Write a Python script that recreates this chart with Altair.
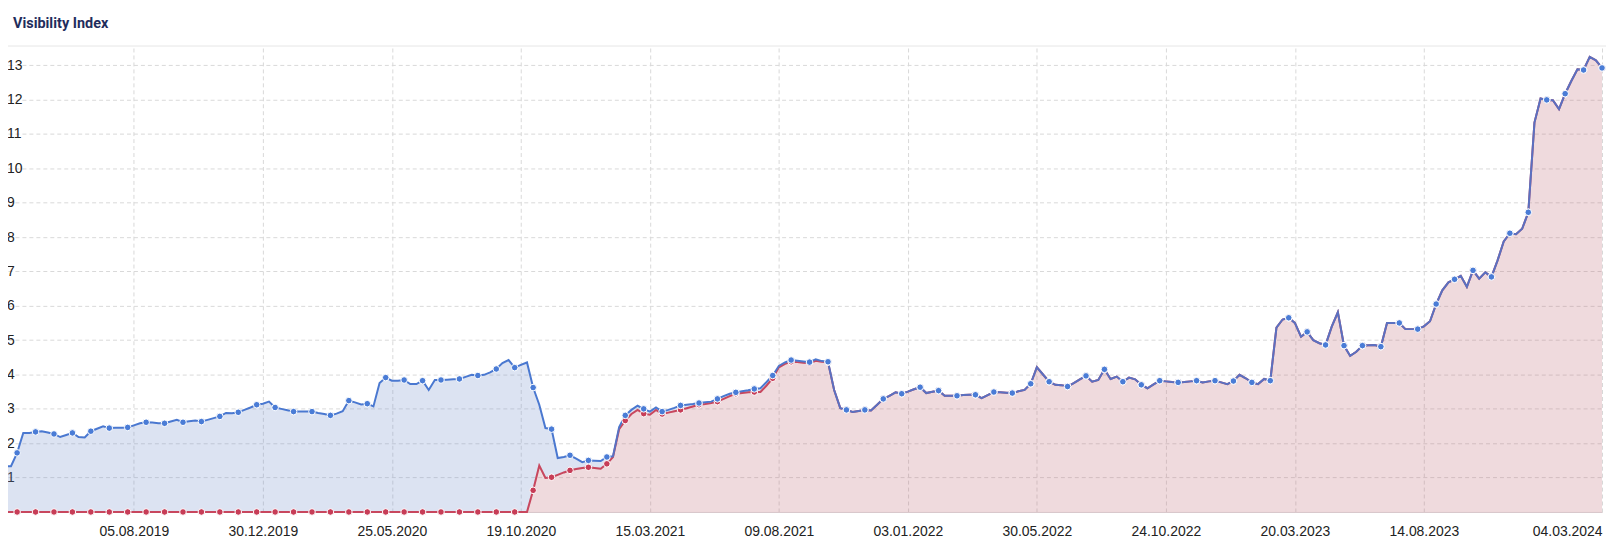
import altair as alt
import pandas as pd

# ---- data (weekly values) ----
first_week = "2019-03-04"

blue = [
    1.33, 1.33, 1.33, 1.72, 2.30, 2.30, 2.33, 2.35, 2.31, 2.27,
    2.18, 2.24, 2.30, 2.18, 2.17, 2.35, 2.42, 2.49, 2.44, 2.45,
    2.45, 2.46, 2.52, 2.58, 2.61, 2.60, 2.58, 2.58, 2.63, 2.68,
    2.61, 2.64, 2.66, 2.63, 2.68, 2.73, 2.78, 2.88, 2.87, 2.90,
    2.97, 3.04, 3.12, 3.15, 3.21, 3.04, 3.00, 2.96, 2.92, 2.92,
    2.92, 2.92, 2.88, 2.85, 2.81, 2.86, 2.93, 3.24, 3.19, 3.13,
    3.15, 3.07, 3.75, 3.91, 3.82, 3.82, 3.84, 3.72, 3.72, 3.82,
    3.55, 3.84, 3.84, 3.85, 3.86, 3.87, 3.93, 3.99, 3.97, 3.99,
    4.06, 4.16, 4.33, 4.42, 4.20, 4.28, 4.35, 3.62, 3.12, 2.44,
    2.41, 1.57, 1.60, 1.65, 1.55, 1.45, 1.50, 1.49, 1.48, 1.60,
    1.62, 2.47, 2.81, 2.97, 3.09, 3.00, 2.92, 3.04, 2.92, 2.97,
    3.03, 3.10, 3.12, 3.14, 3.17, 3.19, 3.21, 3.29, 3.37, 3.44,
    3.48, 3.51, 3.54, 3.58, 3.60, 3.78, 3.97, 4.25, 4.35, 4.42,
    4.40, 4.38, 4.36, 4.44, 4.39, 4.37, 3.55, 3.02, 2.97, 2.91,
    2.94, 2.97, 2.95, 3.12, 3.29, 3.38, 3.48, 3.44, 3.50, 3.57,
    3.63, 3.46, 3.50, 3.53, 3.38, 3.38, 3.38, 3.40, 3.41, 3.41,
    3.31, 3.40, 3.49, 3.48, 3.47, 3.46, 3.51, 3.55, 3.73, 4.21,
    4.00, 3.79, 3.70, 3.69, 3.65, 3.75, 3.86, 3.96, 3.79, 3.84,
    4.15, 3.87, 3.94, 3.79, 3.91, 3.86, 3.70, 3.60, 3.71, 3.82,
    3.80, 3.78, 3.77, 3.78, 3.80, 3.82, 3.77, 3.80, 3.82, 3.77,
    3.72, 3.81, 3.99, 3.89, 3.77, 3.72, 3.87, 3.82, 5.36, 5.60,
    5.65, 5.50, 5.10, 5.24, 5.00, 4.91, 4.86, 5.39, 5.81, 4.84,
    4.54, 4.66, 4.84, 4.85, 4.86, 4.81, 5.50, 5.50, 5.50, 5.32,
    5.32, 5.32, 5.40, 5.55, 6.05, 6.45, 6.68, 6.77, 6.87, 6.55,
    7.03, 6.79, 6.97, 6.84, 7.32, 7.87, 8.11, 8.08, 8.24, 8.72,
    11.33, 12.03, 11.99, 11.98, 11.72, 12.17, 12.54, 12.88, 12.86, 13.24,
    13.14, 12.92,
]

red = [
    0.00, 0.00, 0.00, 0.00, 0.00, 0.00, 0.00, 0.00, 0.00, 0.00,
    0.00, 0.00, 0.00, 0.00, 0.00, 0.00, 0.00, 0.00, 0.00, 0.00,
    0.00, 0.00, 0.00, 0.00, 0.00, 0.00, 0.00, 0.00, 0.00, 0.00,
    0.00, 0.00, 0.00, 0.00, 0.00, 0.00, 0.00, 0.00, 0.00, 0.00,
    0.00, 0.00, 0.00, 0.00, 0.00, 0.00, 0.00, 0.00, 0.00, 0.00,
    0.00, 0.00, 0.00, 0.00, 0.00, 0.00, 0.00, 0.00, 0.00, 0.00,
    0.00, 0.00, 0.00, 0.00, 0.00, 0.00, 0.00, 0.00, 0.00, 0.00,
    0.00, 0.00, 0.00, 0.00, 0.00, 0.00, 0.00, 0.00, 0.00, 0.00,
    0.00, 0.00, 0.00, 0.00, 0.00, 0.00, 0.00, 0.63, 1.35, 0.99,
    1.01, 1.08, 1.15, 1.21, 1.25, 1.28, 1.30, 1.28, 1.26, 1.40,
    1.60, 2.41, 2.66, 2.85, 2.97, 2.86, 2.83, 2.97, 2.85, 2.89,
    2.93, 2.97, 3.02, 3.07, 3.12, 3.14, 3.17, 3.21, 3.29, 3.37,
    3.44, 3.46, 3.48, 3.49, 3.49, 3.68, 3.89, 4.21, 4.31, 4.37,
    4.36, 4.34, 4.33, 4.40, 4.37, 4.36, 3.55, 3.02, 2.97, 2.91,
    2.94, 2.97, 2.95, 3.12, 3.29, 3.38, 3.48, 3.44, 3.50, 3.57,
    3.63, 3.46, 3.50, 3.53, 3.38, 3.38, 3.38, 3.40, 3.41, 3.41,
    3.31, 3.40, 3.49, 3.48, 3.47, 3.46, 3.51, 3.55, 3.73, 4.21,
    4.00, 3.79, 3.70, 3.69, 3.65, 3.75, 3.86, 3.96, 3.79, 3.84,
    4.15, 3.87, 3.94, 3.79, 3.91, 3.86, 3.70, 3.60, 3.71, 3.82,
    3.80, 3.78, 3.77, 3.78, 3.80, 3.82, 3.77, 3.80, 3.82, 3.77,
    3.72, 3.81, 3.99, 3.89, 3.77, 3.72, 3.87, 3.82, 5.36, 5.60,
    5.65, 5.50, 5.10, 5.24, 5.00, 4.91, 4.86, 5.39, 5.81, 4.84,
    4.54, 4.66, 4.84, 4.85, 4.86, 4.81, 5.50, 5.50, 5.50, 5.32,
    5.32, 5.32, 5.40, 5.55, 6.05, 6.45, 6.68, 6.77, 6.87, 6.55,
    7.03, 6.79, 6.97, 6.84, 7.32, 7.87, 8.11, 8.08, 8.24, 8.72,
    11.33, 12.03, 11.99, 11.98, 11.72, 12.17, 12.54, 12.88, 12.86, 13.24,
    13.14, 12.92,
]

x_tick_dates = [
    (2019, 8, 5), (2019, 12, 30), (2020, 5, 25), (2020, 10, 19),
    (2021, 3, 15), (2021, 8, 9), (2022, 1, 3), (2022, 5, 30),
    (2022, 10, 24), (2023, 3, 20), (2023, 8, 14), (2024, 3, 4),
]
y_ticks = [1, 2, 3, 4, 5, 6, 7, 8, 9, 10, 11, 12, 13]

# ---- table ----
dates = pd.date_range(first_week, periods=len(blue), freq="7D")
df = pd.DataFrame({
    "date": dates.strftime("%Y-%m-%dT00:00:00Z"),
    "blue": blue,
    "red": red,
})
dots = df.iloc[::3].reset_index(drop=True)

# ---- styling ----
BLUE_LINE = "#4a78d0"
BLUE_DOT = "#4a7cd6"
RED_LINE = "#c8485f"
RED_DOT = "#c73d57"
GRID = "#d9d9d9"
LABEL = "#222222"
FONT = "Liberation Sans"

x_axis = alt.Axis(
    values=[alt.DateTime(year=y, month=m, date=d, utc=True) for (y, m, d) in x_tick_dates],
    format="%d.%m.%Y",
    grid=True, gridDash=[4, 3], gridColor=GRID, gridWidth=1,
    ticks=False, tickSize=0,
    domain=True, domainColor="#d8c6ca", domainWidth=1,
    labelFont=FONT, labelFontSize=14, labelColor=LABEL, labelPadding=13,
    labelOverlap=False,
    labelAlign={"condition": {"test": "datum.value > 1700000000000", "value": "right"},
                "value": "center"},
    title=None,
)
x_scale = alt.Scale(
    type="utc",
    domain=[alt.DateTime(year=2019, month=3, date=14, hours=14, minutes=24, utc=True),
            alt.DateTime(year=2024, month=3, date=4, utc=True)],
)
y_axis = alt.Axis(
    values=y_ticks,
    grid=True, gridDash=[4, 3], gridColor=GRID, gridWidth=1,
    ticks=False, tickSize=0, domain=False,
    labelFont=FONT, labelFontSize=14, labelColor=LABEL,
    labelAlign="left", labelBaseline="middle", labelPadding=1.5,
    title=None,
)
y_scale = alt.Scale(domain=[0, 13.5], nice=False, zero=True)


def X():
    return alt.X("date:T", scale=x_scale, axis=x_axis, title=None)


def Y(field):
    return alt.Y(f"{field}:Q", scale=y_scale, axis=y_axis, title=None)


base = alt.Chart(df)

red_area = base.mark_area(fill="#bf6b77", fillOpacity=0.25).encode(x=X(), y=Y("red"))
blue_band = base.mark_area(fill="#738fcb", fillOpacity=0.25).encode(
    x=X(), y=Y("blue"), y2=alt.Y2("red:Q"))
red_line = base.mark_line(stroke=RED_LINE, strokeWidth=2).encode(x=X(), y=Y("red"))
blue_line = base.mark_line(stroke=BLUE_LINE, strokeWidth=2).encode(x=X(), y=Y("blue"))
red_line_top = base.mark_line(stroke=RED_LINE, strokeWidth=2, strokeOpacity=0.13).encode(
    x=X(), y=Y("red"))
red_dots = alt.Chart(dots).mark_circle(
    size=44, fill=RED_DOT, fillOpacity=1, stroke="white", strokeWidth=1, strokeOpacity=1
).encode(x=X(), y=Y("red"))
blue_dots = alt.Chart(dots).mark_circle(
    size=44, fill=BLUE_DOT, fillOpacity=1, stroke="white", strokeWidth=1, strokeOpacity=1
).encode(x=X(), y=Y("blue"))

separator = alt.Chart(pd.DataFrame({"k": [0]})).mark_rule(
    stroke="#e6e6e6", strokeWidth=1
).encode(x=alt.value(-8), x2=alt.value(1620), y=alt.value(-2))

chart = alt.layer(
    red_area, blue_band, red_line, blue_line, red_line_top, red_dots, blue_dots, separator
).properties(
    width=1601,
    height=466,
    autosize="none",
    padding={"left": 0, "top": 39, "right": 4, "bottom": 30},
    background="white",
    title=alt.TitleParams(
        "Visibility Index", anchor="start", frame="group", font="Roboto",
        fontSize=14.5, fontWeight="bold", color="#1f2d5c", baseline="middle",
        offset=7, dx=5,
    ),
).configure_view(strokeWidth=0)

chart.save("out.html", embed_options={"renderer": "svg", "actions": False})
